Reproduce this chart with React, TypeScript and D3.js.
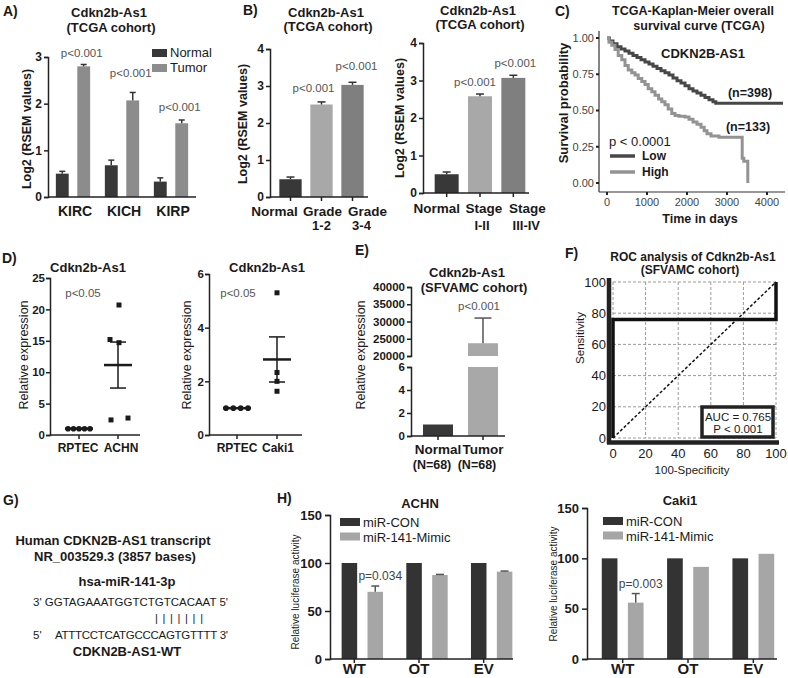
import { useEffect, useRef } from "react";
import * as d3 from "d3";

// A) TCGA kidney cohorts
const kidneyTypes = ["KIRC", "KICH", "KIRP"];
const tissueGroups = ["Normal", "Tumor"];
const kidneyNormal = [0.5, 0.68, 0.33];
const kidneyNormalErr = [0.05, 0.11, 0.08];
const kidneyTumor = [2.8, 2.07, 1.58];
const kidneyTumorErr = [0.04, 0.17, 0.07];
const kidneyPLevel = [3.0, 2.57, 1.84];
const kidneyTicks = [0, 1, 2, 3];

// B) grade / stage
const gradeCats = ["Normal", "Grade 1-2", "Grade 3-4"];
const gradeVals = [0.48, 2.5, 3.03];
const gradeErr = [0.06, 0.07, 0.07];
const gradePLevel = [NaN, 2.84, 3.43];
const stageCats = ["Normal", "Stage I-II", "Stage III-IV"];
const stageVals = [0.5, 2.58, 3.07];
const stageErr = [0.06, 0.06, 0.07];
const stagePLevel = [NaN, 2.85, 3.36];
const log2Ticks = [0, 1, 2, 3, 4];

// C) Kaplan-Meier
const lowDays = [0, 60, 150, 250, 350, 450, 550, 650, 750, 850, 950, 1050, 1150, 1250, 1350, 1450, 1550, 1650, 1750, 1850, 1950, 2050, 2150, 2250, 2350, 2450, 2550, 2650, 2720, 4400];
const lowSurv = [1.0, 0.98, 0.96, 0.94, 0.925, 0.91, 0.895, 0.88, 0.865, 0.85, 0.835, 0.82, 0.805, 0.79, 0.775, 0.76, 0.745, 0.725, 0.705, 0.69, 0.67, 0.65, 0.635, 0.62, 0.605, 0.59, 0.575, 0.56, 0.55, 0.55];
const highDays = [0, 50, 120, 200, 280, 370, 450, 530, 620, 700, 780, 870, 950, 1030, 1120, 1200, 1290, 1370, 1450, 1530, 1620, 1700, 1800, 1950, 2050, 2150, 2250, 2350, 2430, 2500, 2600, 2800, 3380, 3420, 3480, 3520];
const highSurv = [1.0, 0.97, 0.95, 0.92, 0.88, 0.85, 0.81, 0.78, 0.76, 0.745, 0.72, 0.7, 0.68, 0.65, 0.63, 0.605, 0.58, 0.56, 0.54, 0.51, 0.48, 0.465, 0.46, 0.455, 0.44, 0.42, 0.405, 0.385, 0.36, 0.34, 0.325, 0.315, 0.17, 0.15, 0.15, 0];
const survTicks = [0, 0.25, 0.5, 0.75, 1];
const dayTicks = [0, 1000, 2000, 3000, 4000];

// D) cell lines
const rptecA = [1, 1, 1, 1, 1];
const achnVals = [20.7, 15.2, 14.7, 2.4, 2.7];
const rptecB = [1, 1, 1, 1];
const caki1Vals = [5.3, 2.33, 2.0, 1.63];

// E) SFVAMC
const sfGroups = ["Normal", "Tumor"];
const sfVals = [1, 23700];
const sfErr = [0, 7300];
const sfUpperTicks = [20000, 25000, 30000, 35000, 40000];
const sfLowerTicks = [0, 2, 4, 6];

// F) ROC
const rocFpr = [0, 0, 100, 100];
const rocTpr = [0, 76, 76, 100];
const rocTicks = [0, 20, 40, 60, 80, 100];

// H) luciferase
const lucSites = ["WT", "OT", "EV"];
const lucSeries = ["miR-CON", "miR-141-Mimic"];
const achnCon = [100, 100, 100];
const achnMimic = [70, 87.5, 91];
const achnMimicErr = [6, 0.6, 0.6];
const cakiCon = [100, 100, 100];
const cakiMimic = [56, 91.5, 104.5];
const cakiMimicErr = [9, 0, 0];
const lucTicks = [0, 50, 100, 150];

const FONT = "'Liberation Sans', Arial, Helvetica, sans-serif";
const DARK = "#383838";
const INK = "#1a1a1a";
const PGRAY = "#555";

type Sel = d3.Selection<any, unknown, null, undefined>;
type TOpt = { size?: number; bold?: boolean; anchor?: string; fill?: string; rot?: number; mid?: boolean };

function txt(g: Sel, x: number, y: number, s: string, o: TOpt = {}) {
  const t = g
    .append("text")
    .attr("x", x)
    .attr("y", y)
    .attr("font-size", o.size ?? 12)
    .attr("font-weight", o.bold ? "bold" : "normal")
    .attr("text-anchor", o.anchor ?? "middle")
    .attr("fill", o.fill ?? INK)
    .text(s);
  if (o.mid) t.attr("dy", "0.35em");
  if (o.rot) t.attr("transform", `rotate(${o.rot},${x},${y})`);
  return t;
}

function ln(g: Sel, x1: number, y1: number, x2: number, y2: number, w = 1.5, c = "#222") {
  return g.append("line").attr("x1", x1).attr("y1", y1).attr("x2", x2).attr("y2", y2).attr("stroke", c).attr("stroke-width", w);
}

function bar(g: Sel, x: number, w: number, yTop: number, yBot: number, c: string) {
  g.append("rect").attr("x", x).attr("y", yTop).attr("width", w).attr("height", Math.max(0, yBot - yTop)).attr("fill", c);
}

function errBar(g: Sel, cx: number, yFrom: number, yTo: number, cap: number, c = "#333") {
  ln(g, cx, yFrom, cx, yTo, 1.5, c);
  ln(g, cx - cap / 2, yTo, cx + cap / 2, yTo, 1.5, c);
}

function yAxis(
  g: Sel,
  scale: any,
  x: number,
  ticks: number[],
  o: { size?: number; bold?: boolean; fmt?: any; color?: string; len?: number; pad?: number } = {}
) {
  const a = g
    .append("g")
    .attr("transform", `translate(${x},0)`)
    .call(
      d3
        .axisLeft(scale)
        .tickValues(ticks)
        .tickSizeOuter(0)
        .tickSize(o.len ?? 5)
        .tickPadding(o.pad ?? 3)
        .tickFormat(o.fmt ?? d3.format("d"))
    );
  a.attr("font-family", FONT).attr("font-size", o.size ?? 12).attr("font-weight", o.bold === false ? "normal" : "bold");
  a.select(".domain").attr("stroke", "#222").attr("stroke-width", 1.5);
  a.selectAll(".tick line").attr("stroke", "#222").attr("stroke-width", 1.5);
  a.selectAll(".tick text").attr("fill", o.color ?? INK);
  return a;
}

function drawA(root: Sel) {
  const g = root.append("g");
  txt(g, 3, 16, "A)", { bold: true, size: 14, anchor: "start" });
  txt(g, 109, 17, "Cdkn2b-As1", { bold: true, size: 13 });
  txt(g, 111, 32, "(TCGA cohort)", { bold: true, size: 13 });
  const y = d3.scaleLinear().domain([0, 3]).range([197, 57]);
  const x = d3.scaleBand().domain(kidneyTypes).range([48.5, 195.5]).paddingInner(0.3).paddingOuter(0.15);
  const xi = d3.scaleBand().domain(tissueGroups).range([0, x.bandwidth()]).paddingInner(0.4);
  const series = [
    { name: "Normal", v: kidneyNormal, e: kidneyNormalErr, c: DARK },
    { name: "Tumor", v: kidneyTumor, e: kidneyTumorErr, c: "#8c8c8c" },
  ];
  series.forEach((s) => {
    kidneyTypes.forEach((k, i) => {
      const bx = x(k)! + xi(s.name)!;
      bar(g, bx, xi.bandwidth(), y(s.v[i]), y(0), s.c);
      errBar(g, bx + xi.bandwidth() / 2, y(s.v[i]), y(s.v[i] + s.e[i]), 6, "#333");
    });
  });
  yAxis(g, y, 48, kidneyTicks, { size: 12, len: 4, pad: 2 });
  ln(g, 48, 197, 196, 197);
  kidneyTypes.forEach((k, i) => {
    txt(g, x(k)! + x.bandwidth() / 2 + 2, 216, k, { bold: true, size: 14 });
    const tx = x(k)! + xi("Tumor")! + xi.bandwidth() / 2 - 2;
    txt(g, tx, y(kidneyPLevel[i]), "p<0.001", { size: 11.5, fill: PGRAY });
  });
  series.forEach((s, i) => {
    bar(g, 152, 15, 49 + i * 15, 57 + i * 15, s.c);
    txt(g, 170, 57 + i * 15, s.name, { size: 13, anchor: "start" });
  });
  txt(g, 27, 129, "Log2 (RSEM values)", { bold: true, size: 12.5, rot: -90, mid: true });
}

function drawTrio(
  root: Sel,
  cats: string[],
  vals: number[],
  errs: number[],
  pLevels: number[],
  o: {
    axisX: number; y0: number; y4: number; range: [number, number]; axisEnd: number; titleX: number; titleY: number;
    ylabX: number; ylabY: number; dx1: number[]; dx2: number[]; pdx: number[];
  }
) {
  const g = root.append("g");
  const colors = [DARK, "#a8a8a8", "#7f7f7f"];
  const y = d3.scaleLinear().domain([0, 4]).range([o.y0, o.y4]);
  const x = d3.scaleBand().domain(cats).range(o.range).paddingInner(0.28).paddingOuter(0.14);
  cats.forEach((c, i) => {
    const cx = x(c)! + x.bandwidth() / 2;
    bar(g, x(c)!, x.bandwidth(), y(vals[i]), y(0), colors[i]);
    errBar(g, cx, y(vals[i]), y(vals[i] + errs[i]), 8, "#333");
    ln(g, cx, o.y0, cx, o.y0 + 4);
    const parts = c.split(" ");
    txt(g, cx + o.dx1[i], 215 + (o.y0 === 197 ? 1 : -2), parts[0], { bold: true, size: 13.5 });
    if (parts[1]) txt(g, cx + o.dx2[i], 230, parts[1], { bold: true, size: 13 });
    if (!isNaN(pLevels[i])) txt(g, cx + o.pdx[i], y(pLevels[i]), "p<0.001", { size: 11.5, fill: PGRAY });
  });
  yAxis(g, y, o.axisX, log2Ticks, { size: 12, len: 4, pad: 2 });
  ln(g, o.axisX, o.y0, o.axisEnd, o.y0);
  txt(g, o.titleX, o.titleY, "Cdkn2b-As1", { bold: true, size: 13 });
  txt(g, o.titleX + 2, o.titleY + 14, "(TCGA cohort)", { bold: true, size: 13 });
  txt(g, o.ylabX, o.ylabY, "Log2 (RSEM values)", { bold: true, size: 12.5, rot: -90, mid: true });
}

function drawC(root: Sel) {
  const g = root.append("g");
  txt(g, 555, 16, "C)", { bold: true, size: 14, anchor: "start" });
  txt(g, 693, 15, "TCGA-Kaplan-Meier overall", { bold: true, size: 12.5 });
  txt(g, 699, 30, "survival curve (TCGA)", { bold: true, size: 12.5 });
  const x = d3.scaleLinear().domain([0, 4000]).range([607, 767]);
  const y = d3.scaleLinear().domain([0, 1]).range([183, 38]);
  ln(g, 599, 31, 599, 192, 1.2, "#333");
  ln(g, 599, 192, 785, 192, 1.2, "#333");
  survTicks.forEach((t) => {
    ln(g, 596, y(t), 599, y(t), 2, "#222");
    txt(g, 594, y(t), d3.format(".2f")(t), { size: 11, anchor: "end", fill: "#444", mid: true });
  });
  dayTicks.forEach((t) => {
    ln(g, x(t), 192, x(t), 195, 2, "#222");
    txt(g, x(t), 206, String(t), { size: 11, fill: "#444" });
  });
  const line = d3
    .line<[number, number]>()
    .x((d) => x(d[0]))
    .y((d) => y(d[1]))
    .curve(d3.curveStepAfter);
  const curves = [
    { d: lowDays.map((t, i) => [t, lowSurv[i]] as [number, number]), c: "#474747" },
    { d: highDays.map((t, i) => [t, highSurv[i]] as [number, number]), c: "#939393" },
  ];
  curves.forEach((cv) => {
    g.append("path").attr("d", line(cv.d)!).attr("fill", "none").attr("stroke", cv.c).attr("stroke-width", 3);
  });
  txt(g, 703, 58, "CDKN2B-AS1", { bold: true, size: 13 });
  txt(g, 750, 97, "(n=398)", { bold: true, size: 12.5 });
  txt(g, 748, 131, "(n=133)", { bold: true, size: 12.5 });
  txt(g, 609, 146, "p < 0.0001", { size: 13, anchor: "start" });
  ln(g, 610, 156, 635, 156, 3.5, curves[0].c);
  txt(g, 642, 160, "Low", { bold: true, size: 12, anchor: "start" });
  ln(g, 610, 172, 635, 172, 3.5, curves[1].c);
  txt(g, 642, 176, "High", { bold: true, size: 12, anchor: "start" });
  txt(g, 700, 223, "Time in days", { bold: true, size: 12.5 });
  txt(g, 563, 103, "Survival probability", { bold: true, size: 13, rot: -90, mid: true });
}

function drawDot(
  root: Sel,
  o: {
    base: number[]; vals: number[]; cats: string[]; jit: number[]; top: number; ticks: number[]; axisX: number;
    yTop: number; xs: [number, number]; labDx: number[]; axisEnd: number; titleX: number; ylabX: number; pX: number;
  }
) {
  const g = root.append("g");
  const y = d3.scaleLinear().domain([0, o.top]).range([435, o.yTop]);
  const x = d3.scalePoint().domain(o.cats).range(o.xs);
  yAxis(g, y, o.axisX, o.ticks, { size: 11.5, len: 4, pad: 1 });
  ln(g, o.axisX, 435, o.axisEnd, 435);
  o.cats.forEach((c, i) => {
    ln(g, x(c)!, 435, x(c)!, 439);
    txt(g, x(c)! + o.labDx[i], 452, c, { bold: true, size: 12 });
  });
  const groups = [o.base, o.vals];
  groups.forEach((vals, gi) => {
    const cx = x(o.cats[gi])!;
    const m = d3.mean(vals)!;
    const sem = vals.length > 1 ? (d3.deviation(vals) ?? 0) / Math.sqrt(vals.length) : 0;
    ln(g, cx - 14, y(m), cx + 14, y(m), 2.5, INK);
    if (sem > 0) {
      ln(g, cx, y(m - sem), cx, y(m + sem), 1.5, INK);
      ln(g, cx - 8, y(m - sem), cx + 8, y(m - sem), 1.5, INK);
      ln(g, cx - 8, y(m + sem), cx + 8, y(m + sem), 1.5, INK);
    }
    vals.forEach((v, i) => {
      if (gi === 0) {
        const off = vals.length > 1 ? (i / (vals.length - 1)) * 22 - 11 : 0;
        g.append("circle").attr("cx", cx + off).attr("cy", y(v)).attr("r", 2.8).attr("fill", INK);
      } else {
        g.append("rect")
          .attr("x", cx + o.jit[i] - 2.5)
          .attr("y", y(v) - 2.5)
          .attr("width", 5)
          .attr("height", 5)
          .attr("fill", INK);
      }
    });
  });
  txt(g, o.titleX, 272, "Cdkn2b-As1", { bold: true, size: 13 });
  txt(g, o.pX, 297, "p<0.05", { size: 11.5, fill: PGRAY });
  txt(g, o.ylabX, 355, "Relative expression", { size: 12.5, rot: -90, mid: true });
}

function drawE(root: Sel) {
  const g = root.append("g");
  txt(g, 355, 255, "E)", { bold: true, size: 14, anchor: "start" });
  txt(g, 467, 277, "Cdkn2b-As1", { bold: true, size: 13 });
  txt(g, 474, 292, "(SFVAMC cohort)", { bold: true, size: 13 });
  const yu = d3.scaleLinear().domain([20000, 40000]).range([356, 287]);
  const yl = d3.scaleLinear().domain([0, 6]).range([436, 367]);
  const x = d3.scaleBand().domain(sfGroups).range([411, 510]).paddingInner(1 / 3).paddingOuter(0.267);
  const colors = [DARK, "#a8a8a8"];
  sfGroups.forEach((s, i) => {
    const v = sfVals[i];
    const cx = x(s)! + x.bandwidth() / 2;
    bar(g, x(s)!, x.bandwidth(), yl(Math.min(v, 6)), yl(0), colors[i]);
    if (v > 20000) {
      bar(g, x(s)!, x.bandwidth(), yu(v), yu(20000), colors[i]);
      errBar(g, cx, yu(v), yu(v + sfErr[i]), 17, "#555");
      txt(g, cx - 4, yu(v + sfErr[i]) - 8, "p<0.001", { size: 11.5, fill: PGRAY });
    }
    ln(g, cx, 436, cx, 440);
    txt(g, cx, 454, s, { bold: true, size: 13.5 });
    txt(g, cx - 6, 469, "(N=68)", { bold: true, size: 12.5 });
  });
  const fmt = d3.format("d");
  yAxis(g, yu, 411, sfUpperTicks, { size: 11.5, fmt, len: 4, pad: 2 });
  yAxis(g, yl, 411, sfLowerTicks, { size: 11.5, fmt, len: 4, pad: 2 });
  ln(g, 411, 436, 505, 436);
  txt(g, 361, 355, "Relative expression", { size: 12.5, rot: -90, mid: true });
}

function drawF(root: Sel) {
  const g = root.append("g");
  txt(g, 565, 258, "F)", { bold: true, size: 14, anchor: "start" });
  txt(g, 693, 261, "ROC analysis of Cdkn2b-As1", { bold: true, size: 12 });
  txt(g, 690, 274, "(SFVAMC cohort)", { bold: true, size: 12 });
  const x = d3.scaleLinear().domain([0, 100]).range([613, 776]);
  const y = d3.scaleLinear().domain([0, 100]).range([438, 282]);
  rocTicks.forEach((t) => {
    ln(g, x(t), y(100), x(t), y(0), 1, "#9a9a9a").attr("stroke-dasharray", "3,2");
    ln(g, x(0), y(t), x(100), y(t), 1, "#9a9a9a").attr("stroke-dasharray", "3,2");
    txt(g, 606, y(t), String(t), { size: 13, anchor: "end", mid: true });
    txt(g, x(t), 458, String(t), { size: 13 });
  });
  ln(g, 609, 278, 609, 444, 4.5, "#222");
  ln(g, 607, 442.5, 779, 442.5, 4.5, "#222");
  ln(g, x(0), y(0), x(100), y(100), 1.5, "#111").attr("stroke-dasharray", "3,2");
  const roc = d3
    .line<number>()
    .x((_, i) => x(rocFpr[i]))
    .y((d) => y(d));
  g.append("path").attr("d", roc(rocTpr)!).attr("fill", "none").attr("stroke", "#111").attr("stroke-width", 3.5);
  g.append("rect").attr("x", 702).attr("y", 407).attr("width", 71).attr("height", 30).attr("fill", "#fff").attr("stroke", "#222").attr("stroke-width", 3.5);
  txt(g, 738, 421, "AUC = 0.765", { size: 11.5 });
  txt(g, 738, 433, "P < 0.001", { size: 11.5 });
  txt(g, 692, 474, "100-Specificity", { size: 11.5 });
  txt(g, 580, 338, "Sensitivity", { size: 11.5, rot: -90, mid: true });
}

function drawG(root: Sel) {
  const g = root.append("g");
  txt(g, 3, 505, "G)", { bold: true, size: 14, anchor: "start" });
  txt(g, 113, 545, "Human CDKN2B-AS1 transcript", { bold: true, size: 13 });
  txt(g, 115, 561, "NR_003529.3 (3857 bases)", { bold: true, size: 13 });
  txt(g, 127, 586, "hsa-miR-141-3p", { bold: true, size: 13 });
  txt(g, 33, 606, "3' GGTAGAAATGGTCTGTCACAAT  5'", { size: 11.5, anchor: "start" }).attr("textLength", 195);
  txt(g, 155, 622, "|  |  |  |  |  |  |", { size: 11, anchor: "start" }).attr("textLength", 48);
  txt(g, 33, 639, "5'", { size: 11.5, anchor: "start" });
  txt(g, 55, 639, "ATTTCCTCATGCCCAGTGTTTT  3'", { size: 11.5, anchor: "start" }).attr("textLength", 173);
  txt(g, 127, 656, "CDKN2B-AS1-WT", { bold: true, size: 13 });
}

function drawLuc(
  root: Sel,
  o: {
    con: number[]; mimic: number[]; err: number[]; axisX: number; y150: number; range: [number, number]; axisEnd: number;
    title: string; titleX: number; titleY: number; pText: string; labelDx: number; ylabX: number; ylabY: number;
    legX: number; legY: number;
  }
) {
  const g = root.append("g");
  const colors = ["#333333", "#a6a6a6"];
  const y = d3.scaleLinear().domain([0, 150]).range([659, o.y150]);
  const x = d3.scaleBand().domain(lucSites).range(o.range).paddingInner(0.36).paddingOuter(0.18);
  const xi = d3.scaleBand().domain(lucSeries).range([0, x.bandwidth()]).paddingInner(0.4);
  lucSites.forEach((s, i) => {
    const b0 = x(s)! + xi(lucSeries[0])!;
    bar(g, b0, xi.bandwidth(), y(o.con[i]), y(0), colors[0]);
    const b1 = x(s)! + xi(lucSeries[1])!;
    bar(g, b1, xi.bandwidth(), y(o.mimic[i]), y(0), colors[1]);
    if (o.err[i] > 0) errBar(g, b1 + xi.bandwidth() / 2, y(o.mimic[i]), y(o.mimic[i] + o.err[i]), 8, "#555");
    const lx = x(s)! + x.bandwidth() / 2 + o.labelDx;
    ln(g, lx, 659, lx, 663);
    txt(g, lx, 674, s, { bold: true, size: 15 });
  });
  yAxis(g, y, o.axisX, lucTicks, { size: 13 });
  ln(g, o.axisX, 659, o.axisEnd, 659);
  const px = x("WT")! + xi(lucSeries[1])! + xi.bandwidth() / 2 + 5;
  txt(g, px, y(o.mimic[0] + o.err[0]) - 6, o.pText, { size: 12, fill: "#444" });
  lucSeries.forEach((s, i) => {
    bar(g, o.legX, 20, o.legY + i * 14.5, o.legY + i * 14.5 + 8, colors[i]);
    txt(g, o.legX + 23, o.legY + 9 + i * 14.5, s, { size: 13, anchor: "start" });
  });
  txt(g, o.titleX, o.titleY, o.title, { bold: true, size: 13 });
  txt(g, o.ylabX, o.ylabY, "Relative luciferase activity", { size: 10, rot: -90, mid: true });
}

export default function App() {
  const ref = useRef<SVGSVGElement>(null);

  useEffect(() => {
    if (!ref.current) return;
    const svg = d3.select(ref.current) as unknown as Sel;
    svg.selectAll("*").remove();
    svg.append("rect").attr("width", 788).attr("height", 678).attr("fill", "#fff");

    drawA(svg);
    txt(svg, 243, 15, "B)", { bold: true, size: 14, anchor: "start" });
    drawTrio(svg, gradeCats, gradeVals, gradeErr, gradePLevel, {
      axisX: 270, y0: 197, y4: 49, range: [275, 368], axisEnd: 368, titleX: 326, titleY: 17,
      ylabX: 243, ylabY: 124, dx1: [-16, 1, 15], dx2: [0, 0, 9], pdx: [0, -8, 4],
    });
    drawTrio(svg, stageCats, stageVals, stageErr, stagePLevel, {
      axisX: 423, y0: 193, y4: 43, range: [430, 530], axisEnd: 529, titleX: 478, titleY: 15,
      ylabX: 400, ylabY: 118, dx1: [-10, 4, 14], dx2: [0, 2, 13], pdx: [0, -5, 2],
    });
    drawC(svg);
    txt(svg, 2, 263, "D)", { bold: true, size: 14, anchor: "start" });
    drawDot(svg, {
      base: rptecA, vals: achnVals, cats: ["RPTEC", "ACHN"], jit: [1, -8, 1, -7, 10], top: 25,
      ticks: [0, 5, 10, 15, 20, 25], axisX: 50, yTop: 278, xs: [79, 118], labDx: [-1, 3], axisEnd: 140,
      titleX: 88, ylabX: 24, pX: 83,
    });
    drawDot(svg, {
      base: rptecB, vals: caki1Vals, cats: ["RPTEC", "Caki1"], jit: [0, 0, 0, 0], top: 6,
      ticks: [0, 2, 4, 6], axisX: 209, yTop: 274, xs: [237, 277], labDx: [0, 1], axisEnd: 302,
      titleX: 267, ylabX: 187, pX: 238,
    });
    drawE(svg);
    drawF(svg);
    drawG(svg);
    txt(svg, 277, 503, "H)", { bold: true, size: 14, anchor: "start" });
    drawLuc(svg, {
      con: achnCon, mimic: achnMimic, err: achnMimicErr, axisX: 330, y150: 515, range: [330, 524], axisEnd: 513,
      title: "ACHN", titleX: 420, titleY: 508, pText: "p=0.034", labelDx: -8, ylabX: 295, ylabY: 592,
      legX: 340, legY: 518,
    });
    drawLuc(svg, {
      con: cakiCon, mimic: cakiMimic, err: cakiMimicErr, axisX: 587, y150: 508, range: [590, 786], axisEnd: 777,
      title: "Caki1", titleX: 680, titleY: 505, pText: "p=0.003", labelDx: 0, ylabX: 553, ylabY: 584,
      legX: 603, legY: 517,
    });
  }, []);

  return (
    <svg
      ref={ref}
      width={788}
      height={678}
      fontFamily={FONT}
      style={{ position: "absolute", left: 0, top: 0, display: "block" }}
    />
  );
}
